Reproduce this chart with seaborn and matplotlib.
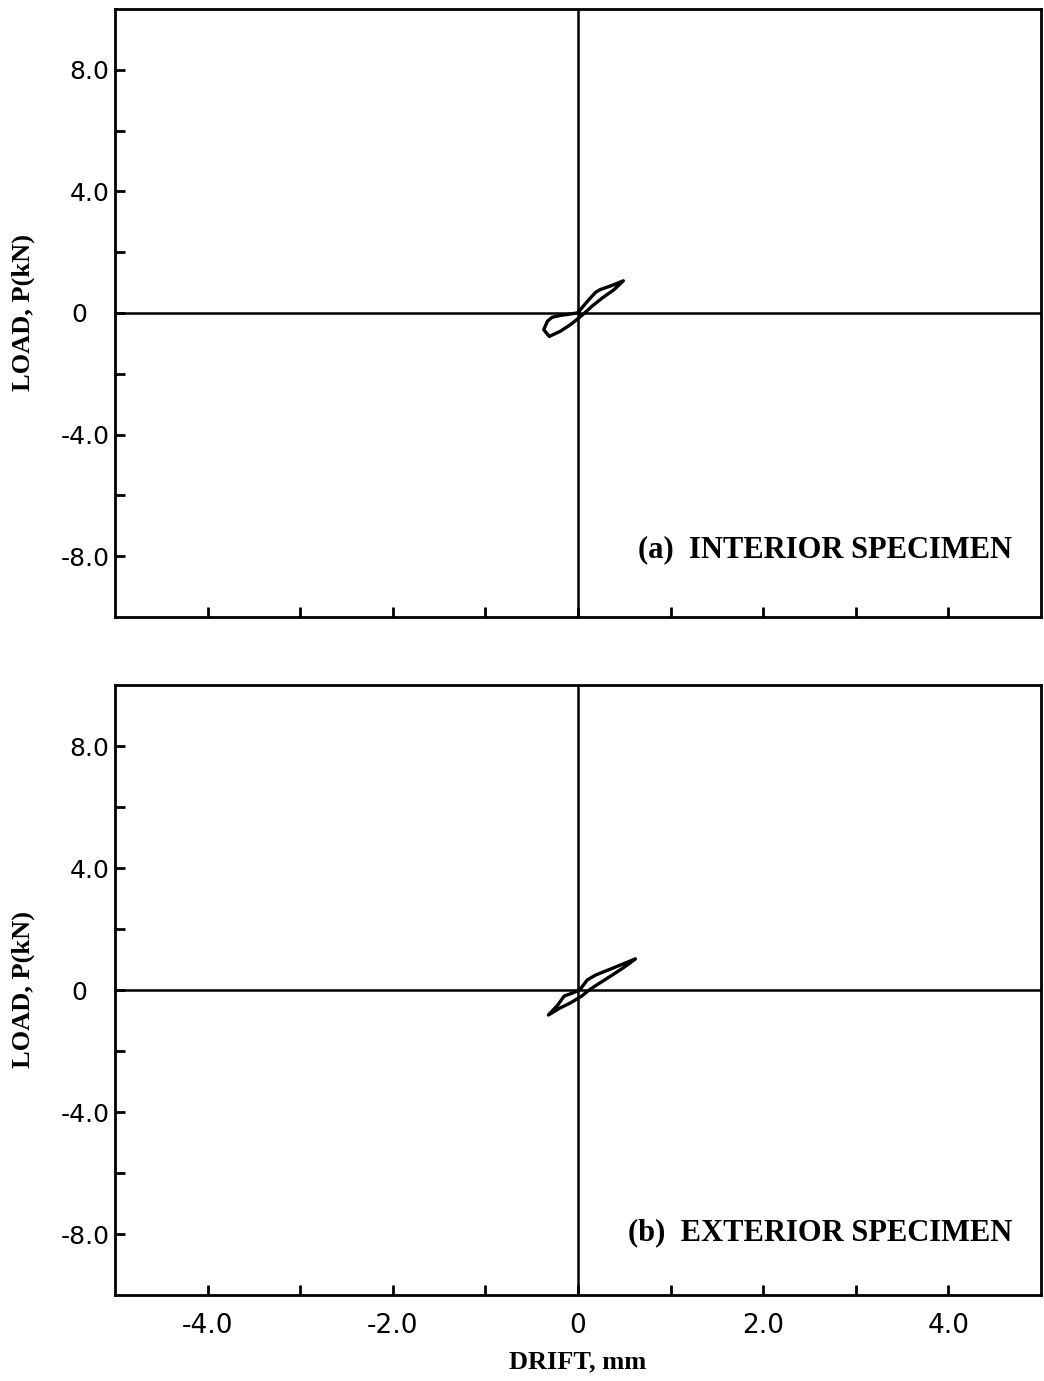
import numpy as np
import pandas as pd
import matplotlib
matplotlib.use("Agg")
import matplotlib.pyplot as plt
import matplotlib.transforms as mtransforms
from matplotlib.ticker import FixedLocator
import seaborn as sns

# ---- data ----
interior_drift = [0.01, 0.10, 0.19, 0.24, 0.37, 0.49, 0.39, 0.26, 0.15, 0.06, 0.01,
                  -0.08, -0.19, -0.31, -0.37, -0.33, -0.28, -0.19, -0.01, 0.01]
interior_load = [0.05, 0.38, 0.68, 0.77, 0.91, 1.06, 0.77, 0.49, 0.22, -0.03, -0.16,
                 -0.38, -0.60, -0.77, -0.55, -0.27, -0.14, -0.08, 0.00, 0.05]

exterior_drift = [0.03, 0.10, 0.19, 0.37, 0.62, 0.51, 0.37, 0.23, 0.12, 0.04,
                  -0.08, -0.20, -0.32, -0.22, -0.15, -0.06, 0.00, 0.03]
exterior_load = [0.05, 0.33, 0.49, 0.71, 1.02, 0.77, 0.49, 0.22, 0.00, -0.20,
                 -0.42, -0.60, -0.82, -0.50, -0.20, -0.10, -0.02, 0.05]

x_major = [-4, -2, 0, 2, 4]
x_major_labels = ["-4.0", "-2.0", "0", "2.0", "4.0"]
x_minor = [-3, -1, 1, 3]
y_major = [-8, -4, 0, 4, 8]
y_major_labels = ["-8.0", "-4.0", "0", "4.0", "8.0"]
y_minor = [-6, -2, 2, 6]
panel_titles = ["(a)  INTERIOR SPECIMEN", "(b)  EXTERIOR SPECIMEN"]
x_label = "DRIFT, mm"
y_label = "LOAD, P(kN)"

sns.set_style("white")
plt.rcParams['font.family'] = ['DejaVu Sans']
plt.rcParams['text.color'] = 'black'
plt.rcParams['axes.labelcolor'] = 'black'
plt.rcParams['xtick.color'] = 'black'
plt.rcParams['ytick.color'] = 'black'

fig = plt.figure(figsize=(10.44, 13.81), dpi=100)
W, H = 1044, 1381
ax_top = fig.add_axes([115 / W, 1 - 617 / H, (1041 - 115) / W, (617 - 9) / H])
ax_bot = fig.add_axes([115 / W, 1 - 1295 / H, (1041 - 115) / W, (1295 - 685) / H])

serif = ['Liberation Serif', 'DejaVu Serif']

panels = [
    (ax_top, interior_drift, interior_load, panel_titles[0], -7.8),
    (ax_bot, exterior_drift, exterior_load, panel_titles[1], -7.95),
]

for i, (ax, xs, ys, title, ty) in enumerate(panels):
    df = pd.DataFrame({"drift": xs, "load": ys})
    sns.lineplot(data=df, x="drift", y="load", sort=False, estimator=None,
                 color="black", lw=2.4, ax=ax)
    ax.axhline(0, color="black", lw=1.8, zorder=1)
    ax.axvline(0, color="black", lw=1.8, zorder=1)
    ax.set_xlim(-5, 5)
    ax.set_ylim(-10, 10)
    for sp in ax.spines.values():
        sp.set_visible(True)
        sp.set_color("black")
        sp.set_linewidth(2.0)
    ax.xaxis.set_major_locator(FixedLocator(x_major))
    ax.xaxis.set_minor_locator(FixedLocator(x_minor))
    ax.yaxis.set_major_locator(FixedLocator(y_major))
    ax.yaxis.set_minor_locator(FixedLocator(y_minor))
    ax.tick_params(axis="both", which="both", direction="in", length=7, width=2,
                   color="black", labelcolor="black",
                   bottom=True, left=True, top=False, right=False)
    ax.tick_params(axis="y", which="major", labelsize=18, pad=4)
    ax.tick_params(axis="x", which="major", labelsize=19, pad=13)
    ax.set_yticklabels(y_major_labels)
    if i == 1:
        ax.set_xticklabels(x_major_labels)
        ax.set_xlabel(x_label, family=serif, fontweight="bold", fontsize=19,
                      labelpad=8, color="black")
    else:
        ax.set_xticklabels([])
        ax.set_xlabel("")
    ax.set_ylabel(y_label, family=serif, fontweight="bold", fontsize=19,
                  labelpad=18, color="black")
    ax.text(4.69, ty, title, family=serif, fontweight="bold", fontsize=22,
            ha="right", va="center", color="black")
    for lab in ax.get_yticklabels():
        if lab.get_text() == "0":
            lab.set_transform(lab.get_transform() +
                              mtransforms.ScaledTranslation(-0.22, 0, fig.dpi_scale_trans))

fig.savefig("out.png", dpi=100, facecolor="white")
